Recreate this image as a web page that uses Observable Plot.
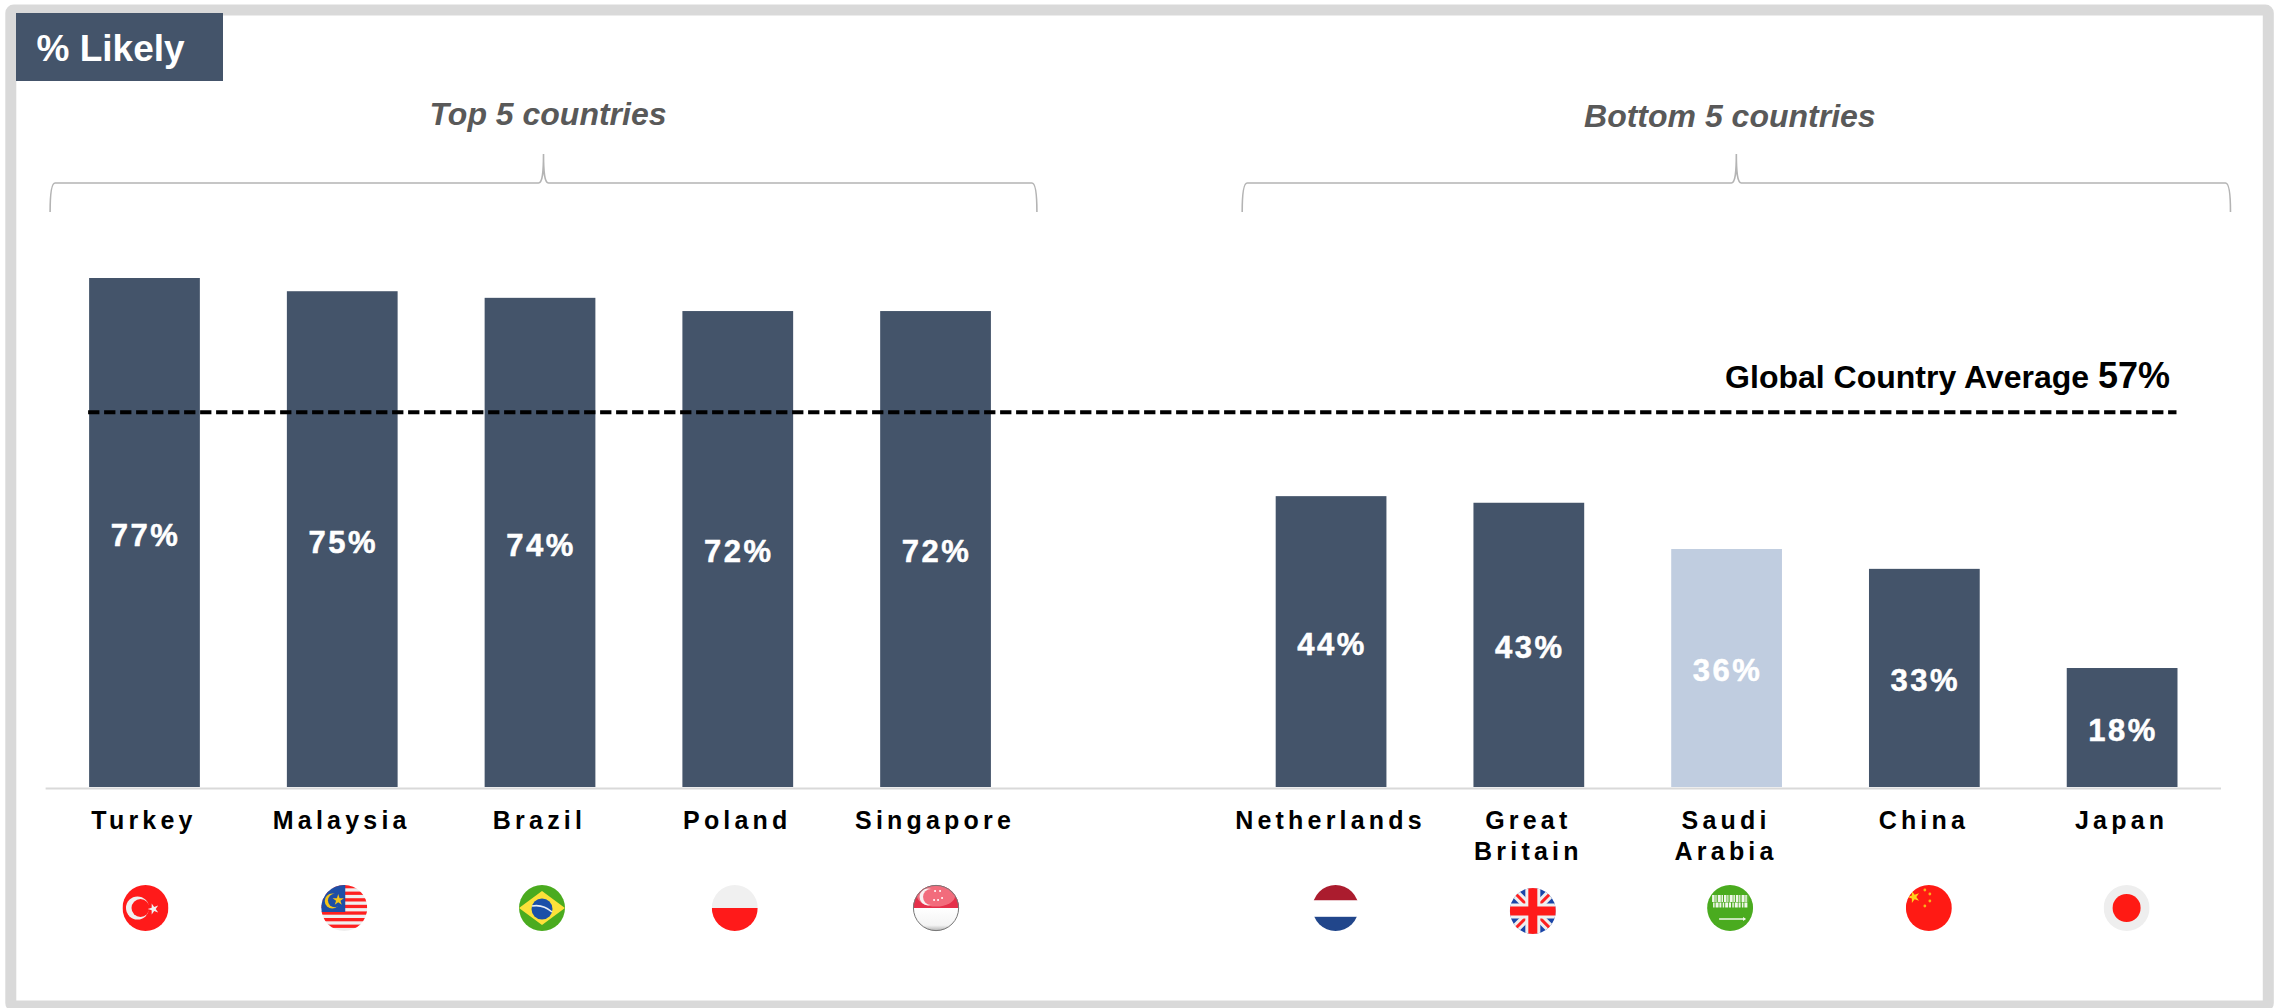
<!DOCTYPE html>
<html>
<head>
<meta charset="utf-8">
<script src="https://cdn.jsdelivr.net/npm/d3@7"></script>
<script src="https://cdn.jsdelivr.net/npm/@observablehq/plot@0.6"></script>
<style>
html,body{margin:0;padding:0;background:#fff;overflow:hidden}
svg{display:block}
g[aria-label="x-axis tick label"] text{letter-spacing:4.2px}
g[aria-label="text"] text{letter-spacing:2.5px}
</style>
</head>
<body>
<div id="chart"></div>
<script>
const countries = ["Turkey","Malaysia","Brazil","Poland","Singapore","Netherlands","Great Britain","Saudi Arabia","China","Japan"];
const values = [77,75,74,72,72,44,43,36,33,18];
const tickLabels = ["Turkey","Malaysia","Brazil","Poland","Singapore","Netherlands","Great\nBritain","Saudi\nArabia","China","Japan"];
const topGroup = countries.slice(0,5);
const bottomGroup = countries.slice(5);
const gapSlot = " ";
const highlightCountry = "Saudi Arabia";
const globalAverage = 57;
const titleText = "% Likely";
const topTitle = "Top 5 countries";
const bottomTitle = "Bottom 5 countries";
const averageTitle = "Global Country Average";

const rows = countries.map((country,i)=>({country,value:values[i]}));
const labelOf = new Map(countries.map((c,i)=>[c,tickLabels[i]]));
const slate = "#44546a", pale = "#c0cde0", FONT = "'Liberation Sans', Arial, sans-serif";

function el(parent,tag,attrs,text){
  const s=parent.append(tag);
  for(const k in attrs) s.attr(k,attrs[k]);
  if(text!==undefined) s.text(text);
  return s;
}
const star=(g,x,y,size,fill,rot=0)=>el(g,"path",{d:d3.symbol(d3.symbolStar,size)(),fill,transform:`translate(${x},${y}) rotate(${rot})`});

const flagDraw = {
  "Turkey":g=>{
    el(g,"rect",{x:-23,y:-23,width:46,height:46,fill:"#ff1a1a"});
    el(g,"circle",{cx:-8,cy:0,r:11.5,fill:"#f0f0f0"});
    el(g,"circle",{cx:-5,cy:0,r:9,fill:"#ff1a1a"});
    star(g,8,1,38,"#f0f0f0",-18);
  },
  "Malaysia":g=>{
    el(g,"rect",{x:-23,y:-23,width:46,height:46,fill:"#efefef"});
    for(let i=0;i<7;i++) el(g,"rect",{x:-23,y:-23+i*6.6,width:46,height:3.3,fill:"#ff2020"});
    el(g,"rect",{x:-23,y:-23,width:24,height:27,fill:"#1e4ea6"});
    el(g,"circle",{cx:-12,cy:-7,r:7.5,fill:"#f5c518"});
    el(g,"circle",{cx:-9.5,cy:-7.5,r:6.8,fill:"#1e4ea6"});
    star(g,-6,-8,40,"#f5c518");
  },
  "Brazil":g=>{
    el(g,"rect",{x:-23,y:-23,width:46,height:46,fill:"#4aab1f"});
    el(g,"path",{d:"M-23 0L0-17L23 0L0 17Z",fill:"#fde13a"});
    el(g,"circle",{cx:0,cy:1,r:10.5,fill:"#1a4fa8"});
    el(g,"path",{d:"M-10-2Q1-4 10 4",fill:"none",stroke:"#e8eef5","stroke-width":1.6});
  },
  "Poland":g=>{
    el(g,"rect",{x:-23,y:-23,width:46,height:23,fill:"#f0f0f0"});
    el(g,"rect",{x:-23,y:0,width:46,height:23,fill:"#ff1a1a"});
  },
  "Singapore":g=>{
    el(g,"rect",{x:-23,y:-23,width:46,height:23,fill:"#e5304a"});
    el(g,"rect",{x:-23,y:0,width:46,height:23,fill:"url(#sgWhite)"});
    el(g,"ellipse",{cx:0,cy:-12,rx:19,ry:10.5,fill:"#f26c7c"});
    el(g,"circle",{cx:-8,cy:-11,r:8.5,fill:"#f8f0f0"});
    el(g,"circle",{cx:-5,cy:-11,r:8,fill:"#f26c7c"});
    [[-1,-17],[4,-17],[6,-10],[-2,-8],[2,-8]].forEach(([x,y])=>el(g,"circle",{cx:x,cy:y,r:1,fill:"#fff"}));
  },
  "Netherlands":g=>{
    el(g,"rect",{x:-23,y:-23,width:46,height:15.5,fill:"#ab1c2e"});
    el(g,"rect",{x:-23,y:-7.5,width:46,height:16.3,fill:"#fff"});
    el(g,"rect",{x:-23,y:8.8,width:46,height:15,fill:"#21468b"});
  },
  "Great Britain":g=>{
    el(g,"rect",{x:-23,y:-23,width:46,height:46,fill:"#1a46a8"});
    el(g,"path",{d:"M-23-23L23 23M23-23L-23 23",stroke:"#efefef","stroke-width":9,fill:"none"});
    el(g,"path",{d:"M-23-23L23 23M23-23L-23 23",stroke:"#ff2020","stroke-width":3,fill:"none"});
    el(g,"path",{d:"M0-23V23M-23 0H23",stroke:"#efefef","stroke-width":15,fill:"none"});
    el(g,"path",{d:"M0-23V23M-23 0H23",stroke:"#ff1a1a","stroke-width":9,fill:"none"});
  },
  "Saudi Arabia":g=>{
    el(g,"rect",{x:-23,y:-23,width:46,height:46,fill:"#4aab1f"});
    el(g,"path",{d:"M-18-9.5H18",stroke:"#f0f7ea","stroke-width":7,"stroke-dasharray":"2.5 .8 1.2 1.2 3 .7 1.5 1",fill:"none"});
    el(g,"path",{d:"M-17-3H18",stroke:"#f0f7ea","stroke-width":5,"stroke-dasharray":"1.5 1 3 .8 2 1.3",fill:"none"});
    el(g,"path",{d:"M-11 11H15",stroke:"#f0f7ea","stroke-width":1.5,fill:"none"});
    el(g,"path",{d:"M13 9L16 11L13 13Z",fill:"#f0f7ea"});
  },
  "China":g=>{
    el(g,"rect",{x:-23,y:-23,width:46,height:46,fill:"#ff1a14"});
    star(g,-15,-11,46,"#ffd21a",-18);
    [[-4,-18],[1,-14],[1,-7],[-4,-2]].forEach(([x,y])=>el(g,"circle",{cx:x,cy:y,r:1.4,fill:"#f7b41a"}));
  },
  "Japan":g=>{
    el(g,"rect",{x:-23,y:-23,width:46,height:46,fill:"#eeeeee"});
    el(g,"circle",{cx:0,cy:0,r:14,fill:"#ff1a14"});
  }
};
const flagShift = {"Turkey":1,"Malaysia":2,"Brazil":2,"Poland":-3,"Singapore":.5,"Netherlands":4.5,"Great Britain":4,"Saudi Arabia":3.5,"China":4.5,"Japan":4.5};

function decorBack(index,scales,channels,{width,height}){
  const g=d3.create("svg:g");
  el(g,"rect",{x:10.8,y:10,width:2257.5,height:996,rx:3,fill:"none",stroke:"#d9d9d9","stroke-width":11});
  el(g,"rect",{x:16,y:13,width:207,height:68,fill:slate});
  el(g,"text",{x:36.5,y:61,"text-anchor":"start",fill:"#fff","font-size":37,"font-weight":"bold","font-family":FONT},titleText);
  const bw=scales.x.bandwidth();
  const brace=(a,b,tip)=>{
    const d=`M${a} 212C${a} 195 ${a+1} 183 ${a+5} 183H${tip-5}C${tip-1} 183 ${tip} 172 ${tip} 154C${tip} 172 ${tip+1} 183 ${tip+5} 183H${b-5}C${b-1} 183 ${b} 195 ${b} 212`;
    el(g,"path",{d,fill:"none",stroke:"#b4b4b4","stroke-width":1.6});
  };
  const a1=scales.x(topGroup[0])-39, b1=scales.x(topGroup[4])+bw+46;
  brace(a1,b1,(a1+b1)/2);
  const a2=scales.x(bottomGroup[0])-33.5, b2=scales.x(bottomGroup[4])+bw+53;
  brace(a2,b2,(a2+b2)/2);
  const head=(x,y,t)=>el(g,"text",{x,y,"text-anchor":"middle",fill:"#595959","font-size":32,"font-weight":"bold","font-style":"italic","font-family":FONT},t);
  head((a1+b1)/2+4.5,125,topTitle);
  head((a2+b2)/2-6.5,126.5,bottomTitle);
  return g.node();
}

function decorFront(index,scales,channels,{width,height}){
  const g=d3.create("svg:g");
  const bw=scales.x.bandwidth();
  const defs=el(g,"defs",{});
  const lg=el(defs,"linearGradient",{id:"sgWhite",x1:0,y1:0,x2:0,y2:1});
  el(lg,"stop",{offset:"0%","stop-color":"#ffffff"});
  el(lg,"stop",{offset:"75%","stop-color":"#f4f4f4"});
  el(lg,"stop",{offset:"100%","stop-color":"#b0b0b0"});
  const cp=el(defs,"clipPath",{id:"flagClip"});
  el(cp,"circle",{cx:0,cy:0,r:23});
  const yAvg=scales.y(globalAverage)+2;
  el(g,"line",{x1:scales.x(countries[0])-1,x2:scales.x(countries[9])+bw-1,y1:yAvg,y2:yAvg,stroke:"#000","stroke-width":4,"stroke-dasharray":"11.3 4.7"});
  const right=scales.x(countries[9])+bw-7.5;
  const t=el(g,"text",{x:right,y:scales.y(globalAverage)-22,"text-anchor":"end",fill:"#000","font-weight":"bold","font-family":FONT,"font-size":32});
  t.append("tspan").text(averageTitle+" ");
  t.append("tspan").attr("font-size",36).text(globalAverage+"%");
  for(const c of countries){
    const cx=scales.x(c)+bw/2+flagShift[c], cy=c==="Great Britain"?911:908;
    const f=el(g,"g",{transform:`translate(${cx},${cy})`});
    const inner=el(f,"g",{"clip-path":"url(#flagClip)"});
    flagDraw[c](inner);
    if(c==="Singapore") el(f,"circle",{r:22.6,fill:"none",stroke:"#777","stroke-width":1});
  }
  return g.node();
}

const chart = Plot.plot({
  width:2279,
  height:1008,
  marginTop:278,
  marginBottom:221,
  marginLeft:45.6,
  marginRight:58,
  style:{fontFamily:FONT,background:"#fff",overflow:"visible"},
  x:{domain:[...topGroup,gapSlot,...bottomGroup],paddingInner:0.44,paddingOuter:0.22,align:0.5,round:false,axis:null},
  y:{domain:[0,77],axis:null},
  marks:[
    decorBack,
    Plot.barY(rows,{x:"country",y:"value",fill:d=>d.country===highlightCountry?pale:slate}),
    Plot.ruleY([0],{stroke:"#d9d9d9",strokeWidth:2,dy:1}),
    Plot.text(rows,{x:"country",y:d=>d.value/2,text:d=>d.value+"%",fill:"#fff",stroke:"#fff",strokeWidth:0.5,fontSize:31,fontWeight:"bold",dy:3,dx:0.5}),
    Plot.axisX({ticks:countries,tickSize:0,tickPadding:19,dx:-1,tickFormat:d=>labelOf.get(d),fontSize:25,fontWeight:"bold",lineHeight:1.24,fill:"#000",label:null}),
    decorFront
  ]
});
document.getElementById("chart").append(chart);
</script>
</body>
</html>
